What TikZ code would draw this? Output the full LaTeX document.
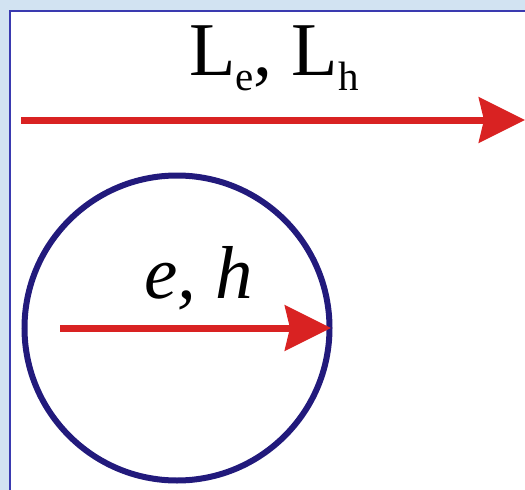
\documentclass[tikz,border=0pt]{standalone}
\usepackage{fontspec}
\setmainfont{Liberation Serif}
\usetikzlibrary{arrows.meta}
\definecolor{bgblue}{HTML}{D2E3F2}
\definecolor{framecol}{HTML}{3A3AB0}
\definecolor{arrowred}{HTML}{D92222}
\definecolor{navy}{HTML}{221A7C}
\begin{document}
\begin{tikzpicture}[x=1pt,y=-1pt,
  redarrow/.style={draw=arrowred, line width=7pt,
    -{Stealth[length=46pt,width=45pt,inset=5pt,fill=arrowred]}},
  ring/.style={circle, draw=navy, line width=6pt, minimum size=305pt, inner sep=0pt, outer sep=0pt},
  lbl/.style={inner sep=0pt, anchor=base west}]
  \useasboundingbox (0,0) rectangle (525,490);
  \fill[bgblue] (0,0) rectangle (525,490);
  \filldraw[fill=white, draw=framecol, line width=1.8pt] (10,11) rectangle (530,495);
  % top arrow
  \coordinate (ta) at (21,120);
  \coordinate (tb) at (525,120);
  \draw[redarrow] (ta) -- (tb);
  \node[lbl] (top) at (189,75) {\fontsize{76}{80}\selectfont L\raisebox{-15pt}{\fontsize{41}{42}\selectfont e}, L\raisebox{-15pt}{\fontsize{41}{42}\selectfont h}};
  % circle
  \node[ring] (c) at (177,328) {};
  \coordinate (ia) at (60,328);
  \draw[redarrow] (ia) -- ([xshift=1.5pt]c.east);
  \node[lbl] (eh) at (144,298) {\fontsize{75}{80}\selectfont\itshape e, h};
\end{tikzpicture}
\end{document}
